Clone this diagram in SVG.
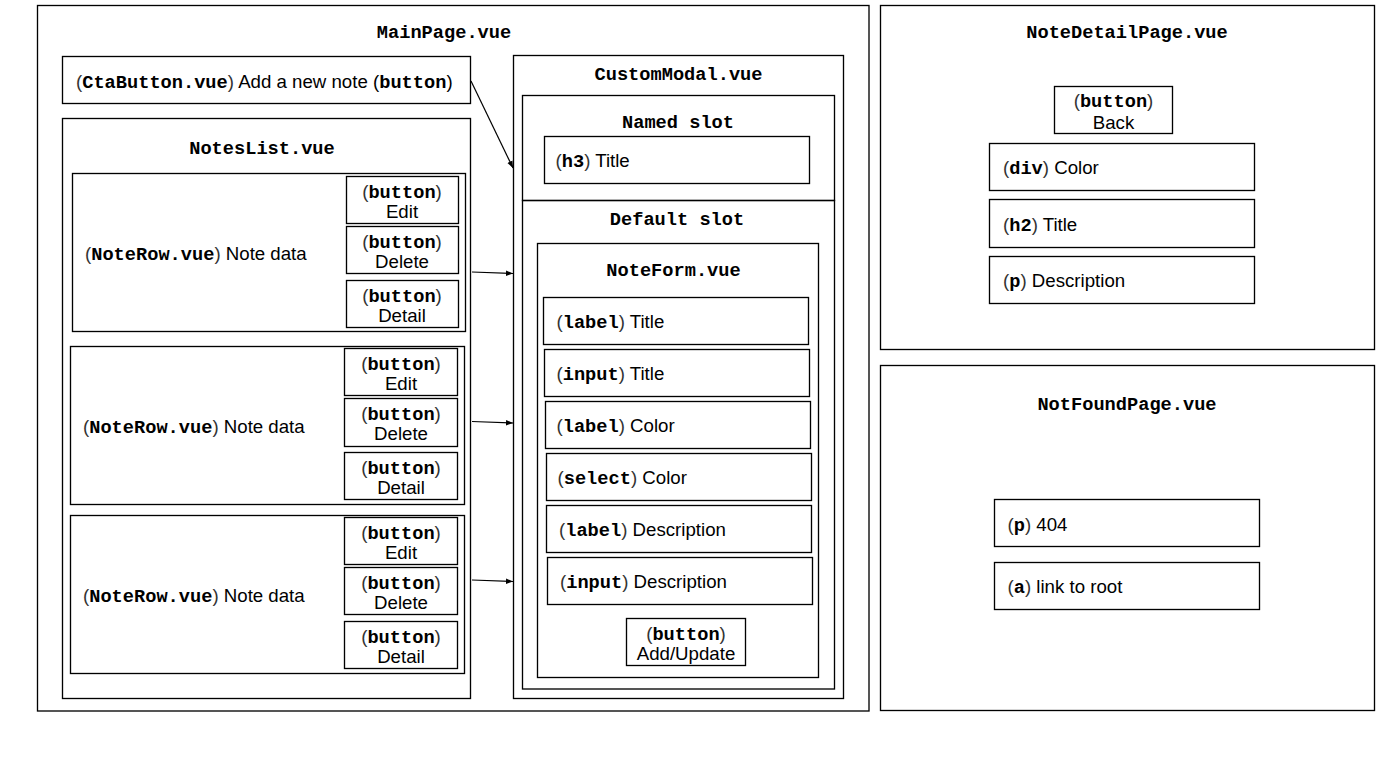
<svg xmlns="http://www.w3.org/2000/svg" width="1394" height="768" viewBox="0 0 1394 768">
<style>
rect{fill:none;stroke:#000;stroke-width:1.33}
text{font-family:"Liberation Sans",Arial,sans-serif;font-size:18.67px;fill:#000}
.t{font-family:"Liberation Mono","Courier New",monospace;font-weight:bold;text-anchor:middle}
.m{font-family:"Liberation Mono","Courier New",monospace;font-weight:bold}
.p{fill:#333}
.c{text-anchor:middle}
.conn line{stroke:#000;stroke-width:1.2}
</style>
<defs>
<marker id="ah" viewBox="0 0 10 10" refX="10" refY="5" markerWidth="7" markerHeight="7" markerUnits="userSpaceOnUse" orient="auto">
<path d="M0,1 L10,5 L0,9 Z" fill="#000"/>
</marker>
</defs>
<rect x="0" y="0" width="1394" height="768" style="fill:#fff;stroke:none"/>

<g id="mainpage">
<rect x="37.5" y="5.5" width="831.5" height="705.5"/>
<text class="t" x="444" y="38">MainPage.vue</text>
</g>

<g id="ctabutton">
<rect x="62.5" y="56.5" width="408" height="47"/>
<text x="76" y="88"><tspan class="p">(</tspan><tspan class="m">CtaButton.vue</tspan><tspan class="p">)</tspan> Add a new note (<tspan class="m">button</tspan>)</text>
</g>

<g id="noteslist">
<rect x="62.5" y="118.5" width="408" height="580"/>
<text class="t" x="262" y="154">NotesList.vue</text>
</g>

<g id="noterow1">
<rect x="72.5" y="173.5" width="393" height="158"/>
<text x="85" y="260"><tspan class="p">(</tspan><tspan class="m">NoteRow.vue</tspan><tspan class="p">)</tspan> Note data</text>
<rect x="346.5" y="176.5" width="112" height="47"/>
<text class="c" x="402" y="197.5"><tspan class="p">(</tspan><tspan class="m">button</tspan><tspan class="p">)</tspan></text>
<text class="c" x="402" y="218">Edit</text>
<rect x="346.5" y="226.5" width="112" height="47"/>
<text class="c" x="402" y="247.5"><tspan class="p">(</tspan><tspan class="m">button</tspan><tspan class="p">)</tspan></text>
<text class="c" x="402" y="268">Delete</text>
<rect x="346.5" y="280.5" width="112" height="47"/>
<text class="c" x="402" y="301.5"><tspan class="p">(</tspan><tspan class="m">button</tspan><tspan class="p">)</tspan></text>
<text class="c" x="402" y="322">Detail</text>
</g>

<g id="noterow2">
<rect x="70.5" y="346.5" width="394" height="158"/>
<text x="83" y="433"><tspan class="p">(</tspan><tspan class="m">NoteRow.vue</tspan><tspan class="p">)</tspan> Note data</text>
<rect x="344.5" y="348.5" width="113" height="47"/>
<text class="c" x="401" y="369.5"><tspan class="p">(</tspan><tspan class="m">button</tspan><tspan class="p">)</tspan></text>
<text class="c" x="401" y="390">Edit</text>
<rect x="344.5" y="398.5" width="113" height="48"/>
<text class="c" x="401" y="419.5"><tspan class="p">(</tspan><tspan class="m">button</tspan><tspan class="p">)</tspan></text>
<text class="c" x="401" y="440">Delete</text>
<rect x="344.5" y="452.5" width="113" height="47"/>
<text class="c" x="401" y="473.5"><tspan class="p">(</tspan><tspan class="m">button</tspan><tspan class="p">)</tspan></text>
<text class="c" x="401" y="494">Detail</text>
</g>

<g id="noterow3">
<rect x="70.5" y="515.5" width="394" height="158"/>
<text x="83" y="601.5"><tspan class="p">(</tspan><tspan class="m">NoteRow.vue</tspan><tspan class="p">)</tspan> Note data</text>
<rect x="344.5" y="517.5" width="113" height="47"/>
<text class="c" x="401" y="538.5"><tspan class="p">(</tspan><tspan class="m">button</tspan><tspan class="p">)</tspan></text>
<text class="c" x="401" y="559">Edit</text>
<rect x="344.5" y="567.5" width="113" height="47"/>
<text class="c" x="401" y="588.5"><tspan class="p">(</tspan><tspan class="m">button</tspan><tspan class="p">)</tspan></text>
<text class="c" x="401" y="609">Delete</text>
<rect x="344.5" y="621.5" width="113" height="47"/>
<text class="c" x="401" y="642.5"><tspan class="p">(</tspan><tspan class="m">button</tspan><tspan class="p">)</tspan></text>
<text class="c" x="401" y="663">Detail</text>
</g>

<g id="custommodal">
<rect x="513.5" y="55.5" width="330" height="643"/>
<text class="t" x="678.5" y="80">CustomModal.vue</text>
</g>

<g id="namedslot">
<rect x="522.5" y="95.5" width="312" height="105"/>
<text class="t" x="678" y="128">Named slot</text>
<rect x="544.5" y="136.5" width="265" height="47"/>
<text x="555.5" y="166.5"><tspan class="p">(</tspan><tspan class="m">h3</tspan><tspan class="p">)</tspan> Title</text>
</g>

<g id="defaultslot">
<rect x="522.5" y="200.5" width="312" height="488.5"/>
<text class="t" x="677" y="224.5">Default slot</text>
</g>

<g id="noteform">
<rect x="537.5" y="243.5" width="281" height="434"/>
<text class="t" x="673.5" y="275.5">NoteForm.vue</text>
<rect x="543.5" y="297.5" width="265" height="47"/>
<text x="556.5" y="328"><tspan class="p">(</tspan><tspan class="m">label</tspan><tspan class="p">)</tspan> Title</text>
<rect x="544.5" y="349.5" width="265" height="47"/>
<text x="556.5" y="380"><tspan class="p">(</tspan><tspan class="m">input</tspan><tspan class="p">)</tspan> Title</text>
<rect x="545.5" y="401.5" width="265" height="47"/>
<text x="556.5" y="432"><tspan class="p">(</tspan><tspan class="m">label</tspan><tspan class="p">)</tspan> Color</text>
<rect x="546.5" y="453.5" width="265" height="47"/>
<text x="557.5" y="484"><tspan class="p">(</tspan><tspan class="m">select</tspan><tspan class="p">)</tspan> Color</text>
<rect x="546.5" y="505.5" width="265" height="47"/>
<text x="559" y="536"><tspan class="p">(</tspan><tspan class="m">label</tspan><tspan class="p">)</tspan> Description</text>
<rect x="547.5" y="557.5" width="265" height="47"/>
<text x="560" y="588"><tspan class="p">(</tspan><tspan class="m">input</tspan><tspan class="p">)</tspan> Description</text>
<rect x="626.5" y="618.5" width="119" height="47"/>
<text class="c" x="686" y="639.5"><tspan class="p">(</tspan><tspan class="m">button</tspan><tspan class="p">)</tspan></text>
<text class="c" x="686" y="660">Add/Update</text>
</g>

<g id="notedetailpage">
<rect x="880.5" y="5.5" width="494" height="344"/>
<text class="t" x="1127" y="38">NoteDetailPage.vue</text>
<rect x="1054.5" y="86.5" width="118" height="47"/>
<text class="c" x="1113.5" y="107"><tspan class="p">(</tspan><tspan class="m">button</tspan><tspan class="p">)</tspan></text>
<text class="c" x="1113.5" y="128.5">Back</text>
<rect x="989.5" y="143.5" width="265" height="47"/>
<text x="1003" y="174"><tspan class="p">(</tspan><tspan class="m">div</tspan><tspan class="p">)</tspan> Color</text>
<rect x="989.5" y="199.5" width="265" height="48"/>
<text x="1003" y="230.5"><tspan class="p">(</tspan><tspan class="m">h2</tspan><tspan class="p">)</tspan> Title</text>
<rect x="989.5" y="256.5" width="265" height="47"/>
<text x="1003" y="287"><tspan class="p">(</tspan><tspan class="m">p</tspan><tspan class="p">)</tspan> Description</text>
</g>

<g id="notfoundpage">
<rect x="880.5" y="365.5" width="494" height="345"/>
<text class="t" x="1127" y="409.5">NotFoundPage.vue</text>
<rect x="994.5" y="499.5" width="265" height="47"/>
<text x="1007.5" y="530.5"><tspan class="p">(</tspan><tspan class="m">p</tspan><tspan class="p">)</tspan> 404</text>
<rect x="994.5" y="562.5" width="265" height="47"/>
<text x="1007.5" y="593"><tspan class="p">(</tspan><tspan class="m">a</tspan><tspan class="p">)</tspan> link to root</text>
</g>

<g id="connectors" class="conn">
<line x1="471" y1="81" x2="513" y2="168" marker-end="url(#ah)"/>
<line x1="472" y1="272" x2="513" y2="273.5" marker-end="url(#ah)"/>
<line x1="472" y1="421.5" x2="513" y2="423" marker-end="url(#ah)"/>
<line x1="472" y1="580" x2="513" y2="581.5" marker-end="url(#ah)"/>
</g>
</svg>
